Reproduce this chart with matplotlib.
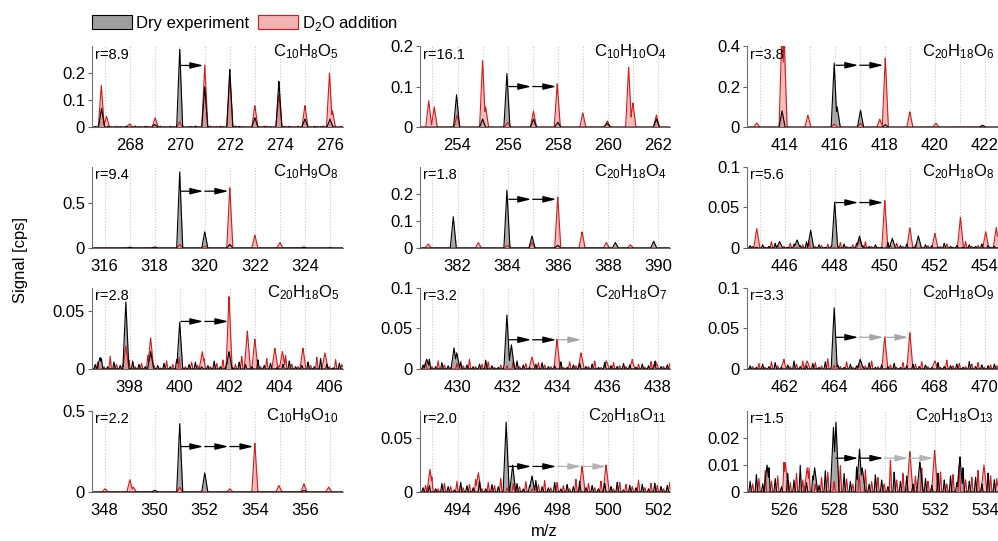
import numpy as np
import matplotlib
matplotlib.use("Agg")
import matplotlib.pyplot as plt
from matplotlib.patches import Patch

plt.rcParams["font.family"] = "Liberation Sans"
plt.rcParams["mathtext.fontset"] = "custom"
plt.rcParams["mathtext.rm"] = "Liberation Sans"

# Paneles, fila por fila
formulas = [r"$\mathregular{C_{10}H_{8}O_{5}}$", r"$\mathregular{C_{10}H_{10}O_{4}}$", r"$\mathregular{C_{20}H_{18}O_{6}}$",
            r"$\mathregular{C_{10}H_{9}O_{8}}$", r"$\mathregular{C_{20}H_{18}O_{4}}$", r"$\mathregular{C_{20}H_{18}O_{8}}$",
            r"$\mathregular{C_{20}H_{18}O_{5}}$", r"$\mathregular{C_{20}H_{18}O_{7}}$", r"$\mathregular{C_{20}H_{18}O_{9}}$",
            r"$\mathregular{C_{10}H_{9}O_{10}}$", r"$\mathregular{C_{20}H_{18}O_{11}}$", r"$\mathregular{C_{20}H_{18}O_{13}}$"]
r_values = ["8.9", "16.1", "3.8", "9.4", "1.8", "5.6", "2.8", "3.2", "3.3", "2.2", "2.0", "1.5"]
base_mz = [270, 256, 416, 319, 384, 448, 400, 432, 464, 351, 496, 528]
y_max = [0.3, 0.2, 0.4, 0.9, 0.3, 0.1, 0.07, 0.1, 0.1, 0.5, 0.075, 0.03]
y_ticks = [[0, 0.1, 0.2], [0, 0.1, 0.2], [0, 0.2, 0.4],
           [0, 0.5], [0, 0.1, 0.2], [0, 0.05, 0.1],
           [0, 0.05], [0, 0.05, 0.1], [0, 0.05, 0.1],
           [0, 0.5], [0, 0.05], [0, 0.01, 0.02]]
arrow_y = [0.228, 0.1, 0.305, 0.63, 0.18, 0.056, 0.041, 0.036, 0.039, 0.28, 0.0236, 0.0125]
arrow_colors = [["k"], ["k", "k"], ["k", "k"],
                ["k", "k"], ["k", "k"], ["k", "k"],
                ["k", "k"], ["k", "k", "0.65"], ["k", "0.65", "0.65"],
                ["k", "k", "k"], ["k", "k", "0.7", "0.7"], ["k", "k", "0.7", "0.7"]]

# Picos (m/z, señal) - experimento seco
dry_1 = [(266.88, 0.07), (269.0, 0.01), (270.0, 0.29), (271.0, 0.15), (272.0, 0.215),
         (273.0, 0.035), (273.96, 0.17), (275.0, 0.03), (276.0, 0.03)]
dry_2 = [(253.96, 0.08), (255.0, 0.02), (255.97, 0.133), (257.03, 0.02), (258.0, 0.012),
         (259.97, 0.01), (261.94, 0.02)]
dry_3 = [(413.9, 0.08), (415.98, 0.318), (416.1, 0.1), (417.03, 0.084), (418.02, 0.012), (421.9, 0.008)]
dry_4 = [(317.0, 0.01), (318.0, 0.012), (319.0, 0.848), (320.0, 0.181), (321.0, 0.04), (323.95, 0.01)]
dry_5 = [(381.83, 0.116), (383.97, 0.215), (384.97, 0.045), (386.0, 0.01), (388.3, 0.02), (389.83, 0.025)]
dry_6 = [(445.8, 0.008), (446.5, 0.01), (447.04, 0.022), (448.0, 0.057), (448.99, 0.015),
         (450.3, 0.012), (451.34, 0.015)]
dry_7 = [(396.82, 0.01), (397.85, 0.058), (398.84, 0.015), (400.0, 0.0405), (401.97, 0.015)]
dry_8 = [(428.77, 0.012), (429.86, 0.026), (429.97, 0.02), (431.97, 0.067), (432.15, 0.03)]
dry_9 = [(463.98, 0.076), (465.02, 0.012)]
dry_10 = [(350.0, 0.01), (351.0, 0.424), (352.0, 0.119), (355.96, 0.01)]
dry_11 = [(495.94, 0.065), (496.2, 0.025), (496.97, 0.015)]
dry_12 = [(527.95, 0.024), (528.05, 0.026), (528.99, 0.016), (529.1, 0.009), (531.4, 0.011),
          (533.0, 0.013), (525.3, 0.01), (527.2, 0.009)]

# Picos (m/z, señal) - adición de D2O
d2o_1 = [(266.87, 0.155), (267.08, 0.04), (268.0, 0.012), (269.02, 0.035), (270.0, 0.02),
         (271.0, 0.232), (272.0, 0.19), (273.0, 0.08), (273.96, 0.12), (275.0, 0.08),
         (275.98, 0.2), (276.1, 0.06)]
d2o_2 = [(252.85, 0.065), (253.07, 0.05), (253.98, 0.03), (255.0, 0.165), (255.12, 0.05),
         (256.0, 0.012), (257.03, 0.04), (257.98, 0.108), (259.0, 0.035), (259.98, 0.015),
         (260.83, 0.148), (261.0, 0.06), (261.94, 0.03)]
d2o_3 = [(412.89, 0.02), (413.9, 0.5), (413.98, 0.45), (414.93, 0.06), (415.98, 0.015),
         (417.03, 0.02), (417.8, 0.04), (418.02, 0.344), (419.0, 0.076), (420.04, 0.02), (421.9, 0.01)]
d2o_4 = [(319.0, 0.04), (320.0, 0.02), (321.0, 0.674), (322.0, 0.144), (323.0, 0.06),
         (323.95, 0.01), (325.0, 0.008)]
d2o_5 = [(380.83, 0.015), (382.83, 0.02), (384.0, 0.01), (384.97, 0.02), (386.0, 0.19),
         (386.97, 0.06), (387.94, 0.02), (388.9, 0.012)]
d2o_6 = [(444.89, 0.024), (448.99, 0.01), (450.0, 0.059), (451.0, 0.025), (452.0, 0.018),
         (453.02, 0.038), (454.03, 0.02), (454.45, 0.025)]
d2o_7 = [(397.85, 0.02), (398.84, 0.027), (400.9, 0.015), (401.97, 0.063), (402.7, 0.033),
         (403.0, 0.026), (403.8, 0.018), (404.1, 0.015), (404.92, 0.018), (405.8, 0.014)]
d2o_8 = [(432.97, 0.015), (433.97, 0.037), (434.93, 0.02), (435.94, 0.01), (436.97, 0.01), (437.9, 0.01)]
d2o_9 = [(461.96, 0.01), (462.9, 0.01), (466.0, 0.04), (467.0, 0.045), (468.0, 0.01)]
d2o_10 = [(348.02, 0.02), (349.01, 0.076), (349.15, 0.03), (350.0, 0.01), (351.0, 0.03),
          (353.0, 0.02), (354.0, 0.303), (354.96, 0.04), (355.96, 0.05), (356.95, 0.03)]
d2o_11 = [(492.9, 0.021), (494.83, 0.018), (498.97, 0.024), (499.93, 0.025)]
d2o_12 = [(526.03, 0.011), (526.9, 0.009), (531.0, 0.015), (531.99, 0.0155), (533.96, 0.01)]

# Ruido de fondo (cada 0.25 m/z), en milésimas (panel 12: diezmilésimas)
noise_dry = {
    0: [2, 1, 3, 1, 2, 4, 1, 2, 3, 1, 2, 1, 3, 2, 1, 2, 4, 1, 2, 1, 3, 1, 2, 3, 1, 2, 1, 3, 2, 1, 2, 3, 1, 2, 1, 3, 2, 1, 2, 1],
    5: [3, 1, 4, 2, 6, 2, 1, 5, 3, 8, 2, 4, 1, 3, 2, 5, 1, 6, 3, 2, 4, 1, 7, 2, 3, 5, 1, 2, 4, 3, 1, 6, 2, 3, 1, 4, 2, 5, 3, 2],
    6: [4, 9, 2, 6, 3, 1, 7, 4, 2, 10, 3, 5, 2, 8, 1, 4, 6, 2, 3, 7, 2, 5, 1, 6, 4, 2, 8, 3, 5, 1, 4, 7, 2, 3, 6, 2, 9, 4, 1, 5],
    7: [5, 12, 3, 8, 4, 2, 9, 5, 3, 6, 11, 4, 2, 7, 3, 10, 5, 2, 6, 8, 3, 4, 9, 2, 5, 7, 3, 6, 2, 8, 4, 3, 7, 5, 2, 6, 4, 9, 3, 5],
    8: [4, 2, 6, 3, 8, 2, 5, 10, 3, 4, 7, 2, 9, 3, 5, 2, 6, 4, 3, 8, 2, 5, 3, 7, 2, 4, 6, 3, 5, 2, 8, 3, 4, 6, 2, 9, 3, 5, 4, 6],
    10: [4, 6, 3, 8, 5, 2, 9, 6, 4, 10, 3, 7, 5, 12, 4, 8, 3, 6, 11, 5, 4, 9, 3, 7, 5, 10, 4, 6, 3, 8, 5, 9, 2, 6, 4, 7, 3, 8, 5, 6],
    11: [40, 65, 30, 90, 50, 20, 70, 45, 100, 35, 60, 25, 80, 55, 30, 70, 40, 95, 50, 30,
         65, 45, 20, 75, 40, 60, 30, 85, 50, 25, 70, 45, 60, 35, 90, 40, 55, 30, 70, 45],
}
noise_d2o = {
    0: [1, 3, 2, 4, 1, 2, 5, 1, 3, 2, 4, 1, 2, 6, 1, 3, 2, 1, 4, 2, 3, 1, 5, 2, 1, 3, 2, 4, 1, 2, 3, 1, 4, 2, 1, 3, 5, 1, 2, 3],
    5: [2, 5, 1, 8, 3, 2, 6, 1, 4, 9, 2, 3, 5, 1, 7, 2, 4, 3, 8, 2, 1, 5, 3, 6, 2, 9, 4, 1, 3, 7, 2, 5, 1, 4, 8, 2, 3, 6, 1, 4],
    6: [6, 2, 11, 4, 3, 8, 2, 5, 12, 3, 1, 7, 4, 10, 2, 6, 3, 9, 2, 5, 8, 1, 4, 11, 3, 6, 2, 9, 5, 3, 12, 4, 2, 7, 3, 10, 5, 2, 8, 4],
    7: [8, 3, 10, 5, 2, 7, 4, 12, 3, 6, 9, 2, 5, 4, 11, 3, 7, 2, 8, 5, 3, 6, 2, 9, 4, 7, 3, 10, 2, 5, 8, 4, 3, 12, 6, 2, 9, 5, 3, 7],
    8: [3, 7, 2, 9, 4, 12, 3, 6, 10, 2, 8, 4, 13, 5, 3, 9, 2, 6, 4, 10, 3, 7, 5, 2, 8, 4, 6, 9, 3, 5, 2, 11, 4, 7, 3, 6, 8, 2, 5, 4],
    10: [6, 14, 3, 8, 5, 10, 4, 7, 12, 3, 9, 6, 13, 4, 8, 5, 10, 3, 7, 11, 4, 9, 6, 3, 12, 5, 8, 4, 10, 6, 3, 9, 7, 5, 11, 4, 8, 6, 3, 9],
    11: [30, 50, 80, 40, 60, 110, 35, 70, 45, 90, 30, 55, 75, 40, 100, 50, 30, 65, 85, 40,
         55, 30, 120, 45, 70, 35, 60, 90, 40, 50, 75, 30, 65, 100, 45, 55, 80, 35, 60, 50],
}
noise_unit = {0: 1e-3, 5: 1e-3, 6: 1e-3, 7: 1e-3, 8: 1e-3, 10: 1e-3, 11: 1e-4}

dry_all = [dry_1, dry_2, dry_3, dry_4, dry_5, dry_6, dry_7, dry_8, dry_9, dry_10, dry_11, dry_12]
d2o_all = [d2o_1, d2o_2, d2o_3, d2o_4, d2o_5, d2o_6, d2o_7, d2o_8, d2o_9, d2o_10, d2o_11, d2o_12]

lefts = [0.0922, 0.4208, 0.7485]
bottoms = [0.765, 0.5416, 0.318, 0.0906]
ancho, alto = 0.251, 0.15

RED = "#d8191c"
PINK = "#f08c8c"


def perfil(x, picos, w):
    y = np.zeros_like(x)
    for p, h in picos:
        y = np.maximum(y, h * np.clip(1 - np.abs(x - p) / w, 0, None))
    return y


fig = plt.figure(figsize=(9.98, 5.41), dpi=100)

for i in range(12):
    ax = fig.add_axes([lefts[i % 3], bottoms[i // 3], ancho, alto])
    M = base_mz[i]
    lo, hi = M - 3.5, M + 6.5
    x = np.linspace(lo, hi, 4000)

    y_dry = perfil(x, dry_all[i], 0.12)
    y_d2o = perfil(x, d2o_all[i], 0.12)
    if i in noise_dry:
        pos = lo + 0.125 + 0.25 * np.arange(len(noise_dry[i]))
        ruido = [(p, h * noise_unit[i]) for p, h in zip(pos, noise_dry[i])]
        y_dry = np.maximum(y_dry, perfil(x, ruido, 0.05))
        pos = lo + 0.225 + 0.25 * np.arange(len(noise_d2o[i]))
        ruido = [(p, h * noise_unit[i]) for p, h in zip(pos, noise_d2o[i])]
        y_d2o = np.maximum(y_d2o, perfil(x, ruido, 0.05))

    ax.fill_between(x, y_dry, color="0.45", alpha=0.6, lw=0)
    ax.fill_between(x, y_d2o, color=PINK, alpha=0.55, lw=0)
    ax.plot(x, y_d2o, color=RED, lw=0.8)
    ax.plot(x, y_dry, color="k", lw=0.8)

    # flechas de intercambio H/D
    for k, c in enumerate(arrow_colors[i]):
        x0 = M + k + (0.05 if k == 0 else 0)
        ax.annotate("", xy=(M + k + 1, arrow_y[i]), xytext=(x0, arrow_y[i]),
                    arrowprops=dict(arrowstyle="-|>,head_length=0.65,head_width=0.16",
                                    color=c, lw=0.9, shrinkA=0, shrinkB=1,
                                    mutation_scale=12))

    ax.set_xlim(lo, hi)
    ax.set_ylim(0, y_max[i])
    ticks = [v for v in range(int(np.ceil(lo)), int(np.floor(hi)) + 1) if v % 2 == 0]
    ax.set_xticks(ticks)
    ax.set_xticks(range(int(np.ceil(lo)), int(np.floor(hi)) + 1), minor=True)
    ax.grid(axis="x", which="both", ls=":", color="0.78", lw=0.8)
    ax.set_axisbelow(True)
    ax.set_yticks(y_ticks[i])
    ax.set_yticklabels(["%g" % v for v in y_ticks[i]])
    ax.tick_params(axis="x", which="both", length=0, labelsize=12, pad=8)
    ax.tick_params(axis="y", length=3, direction="out", color="0.4", labelsize=12, pad=2)
    ax.spines["top"].set_visible(False)
    ax.spines["right"].set_visible(False)
    ax.spines["left"].set_color("0.45")
    ax.spines["bottom"].set_color("0.3")
    ax.spines["bottom"].set_linewidth(0.6)

    ax.text(0.012, 0.98, "r=" + r_values[i], transform=ax.transAxes,
            ha="left", va="top", fontsize=10.5)
    ax.text(0.985, 1.05, formulas[i], transform=ax.transAxes,
            ha="right", va="top", fontsize=12)

handles = [Patch(facecolor="0.62", edgecolor="k", lw=0.8, label="Dry experiment"),
           Patch(facecolor="#f2b3b3", edgecolor=RED, lw=0.8, label=r"D$_2$O addition")]
fig.legend(handles=handles, loc="upper left", bbox_to_anchor=(0.092, 1 - 14 / 541),
           ncol=2, frameon=False, fontsize=12, handlelength=2.4, handleheight=0.95,
           handletextpad=0.25, columnspacing=0.55, borderpad=0, borderaxespad=0)

fig.text(0.021, 0.519, "Signal [cps]", rotation=90, ha="center", va="center", fontsize=12)
fig.text(0.545, 0.018, "m/z", ha="center", va="center", fontsize=12)

plt.savefig("out.png", dpi=100)
